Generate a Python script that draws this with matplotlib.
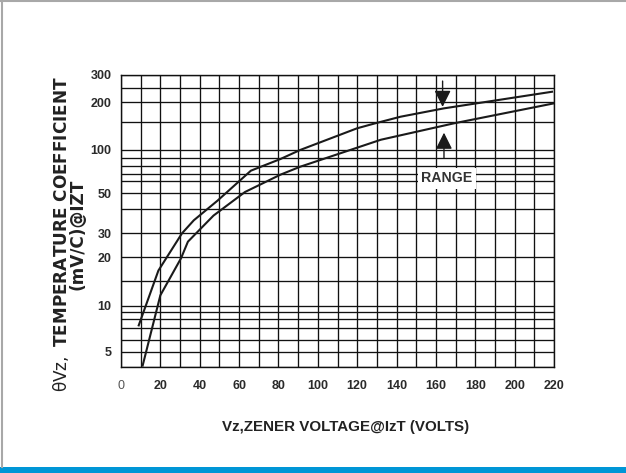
import numpy as np
import matplotlib
matplotlib.use('Agg')
import matplotlib.pyplot as plt
from matplotlib import font_manager
from matplotlib.patches import Rectangle
from matplotlib.lines import Line2D

# zener voltage (V) vs temperature coefficient (mV/C), two limit curves
volts_hi = [9, 19, 31, 37, 49, 66, 81, 91, 120, 129, 142, 164, 219]
tc_hi = [7.3, 17, 30, 35, 45, 74, 89, 100, 137, 147, 162, 183, 235]
volts_lo = [11, 20, 30.5, 34, 47, 63, 81, 91, 132, 169, 220]
tc_lo = [4.1, 11.9, 19.7, 26, 37, 51, 69, 79, 116, 147, 197]

x_ticks = list(range(0, 221, 20))
y_ticks = [5, 10, 20, 30, 50, 100, 200, 300]
y_grid = [4, 5, 6, 7, 8, 9, 10, 15, 20, 30, 40, 50, 60, 70, 80, 90, 100, 150, 200, 250, 300]

# the printed chart uses an uneven log-like axis, this is where each grid line sits
grid_h = 367.3 - np.array([367.3, 351.7, 340, 328.3, 319, 311.7, 306, 281, 257, 233.3, 209,
                           193.3, 181.3, 174, 166, 158.3, 150, 122, 102.3, 87.7, 75])
log_grid = np.log10(y_grid)


def fwd(v):
    v = np.clip(np.asarray(v, dtype=float), 1e-3, None)
    return np.interp(np.log10(v), log_grid, grid_h)


def inv(h):
    return 10 ** np.interp(np.asarray(h, dtype=float), grid_h, log_grid)


names = {f.name for f in font_manager.fontManager.ttflist}
if 'Liberation Sans Narrow' in names:
    narrow, tick_fs, xlab_fs = 'Liberation Sans Narrow', 10.5, 13.3
else:
    narrow, tick_fs, xlab_fs = 'Liberation Sans', 9, 10.9

W, H = 626, 473
fig = plt.figure(figsize=(W / 100, H / 100), dpi=100)
ax = fig.add_axes([121 / W, 1 - 367.3 / H, 433 / W, 292.3 / H])
ax.set_yscale('function', functions=(fwd, inv))
ax.set_xlim(0, 220)
ax.set_ylim(4, 300)

line_c = '#1a1a1a'
ax.plot(volts_hi, tc_hi, color=line_c, lw=1.5, solid_joinstyle='round')
ax.plot(volts_lo, tc_lo, color=line_c, lw=1.5, solid_joinstyle='round')

# grid
ax.set_xticks(x_ticks)
ax.set_xticks(range(0, 221, 10), minor=True)
ax.set_yticks(y_ticks)
ax.set_yticks([v for v in y_grid if v not in y_ticks], minor=True)
ax.set_xticklabels([str(t) for t in x_ticks])
ax.set_yticklabels([str(t) for t in y_ticks])
ax.yaxis.set_minor_formatter(plt.NullFormatter())
ax.xaxis.set_minor_formatter(plt.NullFormatter())
ax.grid(True, which='both', color='#111111', lw=0.95)
ax.set_axisbelow(True)
for s in ax.spines.values():
    s.set_color('#111111')
    s.set_linewidth(1.0)
ax.tick_params(which='both', length=0)
ax.tick_params(axis='x', pad=9)
ax.tick_params(axis='y', pad=7)
for lab in ax.get_xticklabels() + ax.get_yticklabels():
    lab.set_fontfamily(narrow)
    lab.set_fontweight('bold')
    lab.set_fontsize(tick_fs)
    lab.set_color('#2a2a2a')
ax.get_xticklabels()[0].set_fontweight('normal')
ax.get_xticklabels()[0].set_color('#555555')

# range marker
ax.text(165.6, 63.8, 'RANGE', ha='center', va='center', family='Liberation Sans',
        fontweight='bold', fontsize=10.2, color='#333333',
        bbox=dict(facecolor='white', edgecolor='none', pad=2.5))
arrow = dict(arrowstyle='-|>,head_width=0.5,head_length=1.0', color='#1a1a1a', lw=1.0,
             shrinkA=0, shrinkB=0)
ax.annotate('', xy=(163.4, 187), xytext=(163.4, 275), arrowprops=arrow)
ax.annotate('', xy=(164.1, 128.5), xytext=(164.1, 90.6), arrowprops=arrow)

# axis titles
fig.text(346 / W, 1 - 427 / H, 'Vz,ZENER VOLTAGE@IzT (VOLTS)', ha='center', va='center',
         family=narrow, fontweight='bold', fontsize=xlab_fs, color='#222222')
fig.text(69 / W, 1 - 234 / H,
         '$\\mathrm{\\theta Vz,}$ TEMPERATURE COEFFICIENT\n(mV/C)@IZT',
         rotation=90, ha='center', va='center', multialignment='center',
         family='DejaVu Sans', fontweight='bold', fontsize=12.2, color='#222222',
         linespacing=0.82)

# page frame and blue footer strip
fig.patches.append(Rectangle((0, 0), 1, 6 / H, transform=fig.transFigure,
                             facecolor='#0096d6', edgecolor='none'))
fig.lines.append(Line2D([2 / W, 2 / W], [6 / H, 1], transform=fig.transFigure,
                        color='#a8a8a8', lw=1.5))
fig.lines.append(Line2D([0, 1], [1 - 1 / H, 1 - 1 / H], transform=fig.transFigure,
                        color='#a8a8a8', lw=1.5))

fig.savefig('out.png', dpi=100)
